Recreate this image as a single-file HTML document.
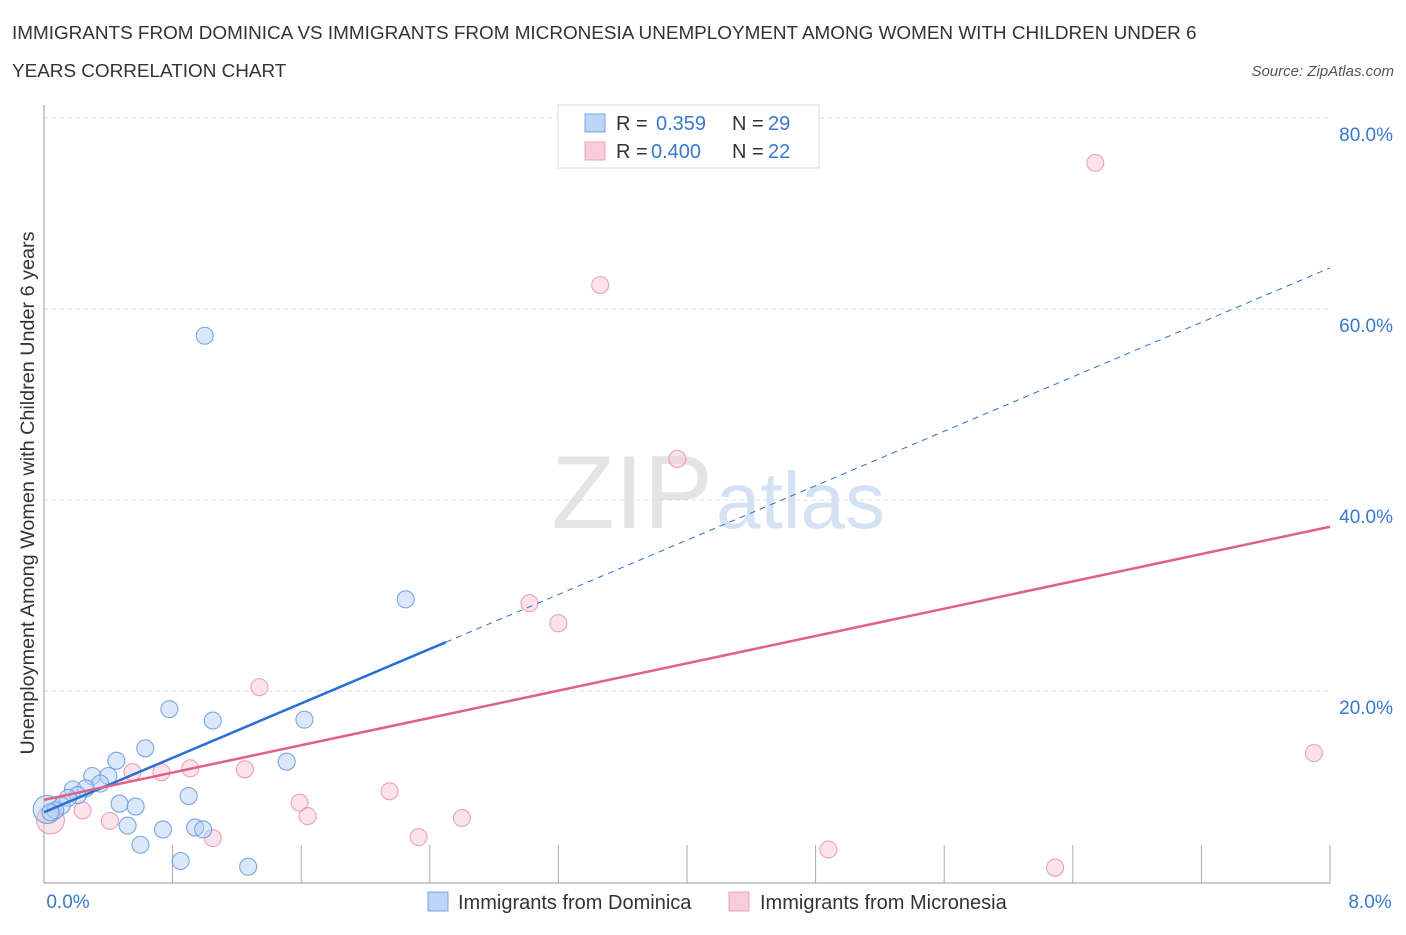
<!DOCTYPE html>
<html><head><meta charset="utf-8"><style>
body{margin:0;background:#fff;font-family:"Liberation Sans",sans-serif}
svg text{font-family:"Liberation Sans",sans-serif}
</style></head><body>
<svg width="1406" height="930">
<text x="12" y="39" font-size="18.9" fill="#333">IMMIGRANTS FROM DOMINICA VS IMMIGRANTS FROM MICRONESIA UNEMPLOYMENT AMONG WOMEN WITH CHILDREN UNDER 6</text>
<text x="12" y="77" font-size="18.9" fill="#333">YEARS CORRELATION CHART</text>
<text x="1394" y="76" font-size="15" font-style="italic" fill="#555" text-anchor="end">Source: ZipAtlas.com</text>
<text x="713" y="528" font-size="104" font-family="Liberation Serif,serif" fill="#e4e4e4" text-anchor="end">ZIP</text>
<text x="716" y="528" font-size="80" fill="#d4e2f3">atlas</text>
<g id="grid"></g>
<g id="axes"></g>
<g id="marks"></g>
<text transform="translate(34,493) rotate(-90)" font-size="19.8" fill="#333" text-anchor="middle">Unemployment Among Women with Children Under 6 years</text>
<g>
<rect x="558" y="105" width="261" height="63" fill="#fff" stroke="#ddd"/>
<rect x="585" y="114" width="20" height="18" fill="#bcd4f5" stroke="#7aa6e6"/>
<text x="616" y="130" font-size="20" fill="#333">R = </text><text x="656" y="130" font-size="20" fill="#3a78d0">0.359</text>
<text x="732" y="130" font-size="20" fill="#333">N = </text><text x="768" y="130" font-size="20" fill="#3a78d0">29</text>
<rect x="585" y="142" width="20" height="18" fill="#f9ccd9" stroke="#eea0b8"/>
<text x="616" y="158" font-size="20" fill="#333">R = </text><text x="651" y="158" font-size="20" fill="#3a78d0">0.400</text>
<text x="732" y="158" font-size="20" fill="#333">N = </text><text x="768" y="158" font-size="20" fill="#3a78d0">22</text>
</g>
<g>
<rect x="428" y="892" width="20" height="19" fill="#bcd4f5" stroke="#7aa6e6"/>
<text x="458" y="909" font-size="20" fill="#333">Immigrants from Dominica</text>
<rect x="729" y="892" width="20" height="19" fill="#f9ccd9" stroke="#eea0b8"/>
<text x="760" y="909" font-size="20" fill="#333">Immigrants from Micronesia</text>
</g>
</svg>
<script>
const yTicks=[20,40,60,80];
const yTickLabels=["20.0%","40.0%","60.0%","80.0%"];
const xLabels=["0.0%","8.0%"];
const domX=[0.02,1.00,2.25,0.78,1.05,1.62,0.63,0.45,1.51,0.30,0.40,0.35,0.18,0.26,0.21,0.15,0.11,0.07,0.04,0.47,0.57,0.90,0.52,0.74,0.94,0.99,0.60,0.85,1.27];
const domY=[7.6,57.2,29.6,18.1,16.9,17.0,14.0,12.7,12.6,11.1,11.1,10.3,9.7,9.8,9.1,8.8,8.0,7.5,7.3,8.2,7.9,9.0,5.9,5.5,5.7,5.5,3.9,2.2,1.6];
const micX=[0.04,6.54,3.46,3.94,3.02,3.20,1.34,1.25,0.91,0.55,0.73,7.90,2.15,1.59,1.64,2.60,0.41,0.24,1.05,2.33,4.88,6.29];
const micY=[6.5,75.3,62.5,44.3,29.2,27.1,20.4,11.8,11.9,11.5,11.5,13.5,9.5,8.3,6.9,6.7,6.4,7.5,4.6,4.7,3.4,1.5];
const domLine=[7.3,64.3], domSolidEnd=2.5;
const micLine=[8.6,37.2];
const NS="http://www.w3.org/2000/svg";
const X=v=>44+v/8*1286, Y=v=>882-v*9.55;
function mk(t,a,p){const e=document.createElementNS(NS,t);for(const k in a)e.setAttribute(k,a[k]);document.getElementById(p).appendChild(e);return e;}
yTicks.forEach((t,i)=>{
 const g=mk('line',{x1:44,x2:1330,y1:Y(t),y2:Y(t),stroke:'#ddd','stroke-dasharray':'4,4'},'grid');
 
 
 const l=mk('text',{x:1393,y:Y(t)+23,'font-size':19,fill:'#3a78d0','text-anchor':'end'},'axes');l.textContent=yTickLabels[i];
 
 
});
const ax=mk('line',{x1:44,x2:44,y1:105,y2:883,stroke:'#999'},'axes');


const bx=mk('line',{x1:44,x2:1330,y1:883,y2:883,stroke:'#999'},'axes');


for(let i=1;i<=10;i++){const tx=mk('line',{x1:44+i*128.6,x2:44+i*128.6,y1:845,y2:883,stroke:'#aaa'},'axes');
 
 }
[0,1].forEach(i=>{const t=mk('text',{x:i?1370:68,y:908,'font-size':19,fill:'#3a78d0','text-anchor':'middle'},'axes');t.textContent=xLabels[i];
 
 });
function pts(xs,ys,fill,stroke,name){xs.forEach((x,i)=>{const c=mk('circle',{cx:X(x),cy:Y(ys[i]),r:i==0?14:8.5,fill:fill,'fill-opacity':0.5,stroke:stroke,'stroke-opacity':0.8,'stroke-width':1.1},'marks');
 
 });}
pts(micX,micY,'#f9c6d5','#e78ea9','micronesia-point');
pts(domX,domY,'#b8d1f3','#5d95dc','dominica-point');
const slope=(domLine[1]-domLine[0])/8;
const l1=mk('line',{x1:X(0),y1:Y(domLine[0]),x2:X(domSolidEnd),y2:Y(domLine[0]+slope*domSolidEnd),stroke:'#2a6fd6','stroke-width':2.5},'marks');


const l2=mk('line',{x1:X(domSolidEnd),y1:Y(domLine[0]+slope*domSolidEnd),x2:X(8),y2:Y(domLine[1]),stroke:'#2a6fd6','stroke-width':1,'stroke-dasharray':'6,5'},'marks');


const l3=mk('line',{x1:X(0),y1:Y(micLine[0]),x2:X(8),y2:Y(micLine[1]),stroke:'#e0608a','stroke-width':2.5},'marks');


</script>
</body></html>
